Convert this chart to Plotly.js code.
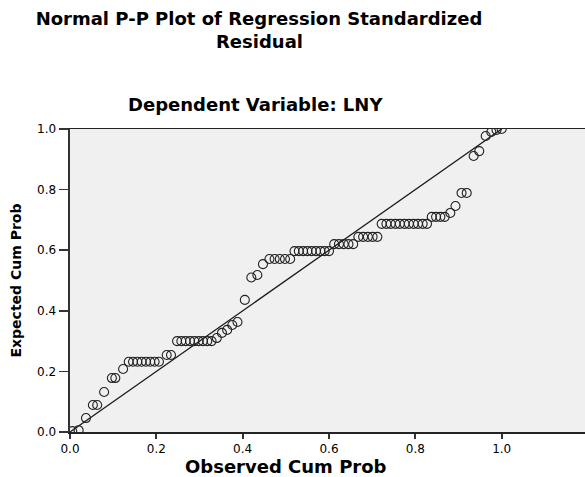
<!DOCTYPE html>
<html>
<head>
<meta charset="utf-8">
<script src="https://cdn.plot.ly/plotly-3.0.1.min.js"></script>
<style>html,body{margin:0;padding:0;background:#fff;}#chart{width:585px;height:477px;}</style>
</head>
<body>
<div id="chart"></div>
<script>
// Observed cumulative probability (x) and expected cumulative probability (y)
var observedCumProb = [
  0.005, 0.020, 0.037, 0.053, 0.063, 0.079, 0.097, 0.105, 0.123,
  0.136, 0.146, 0.156, 0.166, 0.176, 0.186, 0.196, 0.206,
  0.224, 0.234,
  0.248, 0.258, 0.268, 0.278, 0.288, 0.298, 0.308, 0.318, 0.328,
  0.340, 0.352, 0.364, 0.376, 0.388,
  0.405, 0.420, 0.434, 0.447,
  0.462, 0.474, 0.486, 0.498, 0.510,
  0.520, 0.530, 0.540, 0.550, 0.560, 0.570, 0.580, 0.590, 0.600,
  0.612, 0.623, 0.634, 0.645, 0.656,
  0.668, 0.679, 0.690, 0.701, 0.712,
  0.722, 0.733, 0.743, 0.754, 0.764, 0.775, 0.785, 0.796, 0.806, 0.817, 0.827,
  0.838, 0.848, 0.858, 0.868,
  0.881, 0.893, 0.907, 0.919, 0.935, 0.948,
  0.963, 0.976, 0.988, 1.000
];
var expectedCumProb = [
  0.003, 0.006, 0.046, 0.089, 0.089, 0.132, 0.178, 0.178, 0.208,
  0.232, 0.232, 0.232, 0.232, 0.232, 0.232, 0.232, 0.232,
  0.254, 0.254,
  0.300, 0.300, 0.300, 0.300, 0.300, 0.300, 0.300, 0.300, 0.300,
  0.310, 0.327, 0.337, 0.353, 0.363,
  0.436, 0.510, 0.518, 0.554,
  0.571, 0.571, 0.571, 0.571, 0.571,
  0.597, 0.597, 0.597, 0.597, 0.597, 0.597, 0.597, 0.597, 0.597,
  0.620, 0.620, 0.620, 0.620, 0.620,
  0.644, 0.644, 0.644, 0.644, 0.644,
  0.687, 0.687, 0.687, 0.687, 0.687, 0.687, 0.687, 0.687, 0.687, 0.687, 0.687,
  0.710, 0.710, 0.710, 0.710,
  0.723, 0.746, 0.789, 0.789, 0.911, 0.927,
  0.977, 0.990, 0.997, 1.000
];
// Reference (normal) line
var refLineX = [0, 1];
var refLineY = [0, 1];
var yTickVals = [0, 0.2, 0.4, 0.6, 0.8, 1.0];
var yTickText = ['0.0', '0.2', '0.4', '0.6', '0.8', '1.0'];
var xTickVals = [0, 0.2, 0.4, 0.6, 0.8, 1.0];
var xTickText = ['0.0', '0.2', '0.4', '0.6', '0.8', '1.0'];
var titleLine1 = 'Normal P-P Plot of Regression Standardized';
var titleLine2 = 'Residual';
var subTitle = 'Dependent Variable: LNY';
var xTitle = 'Observed Cum Prob';
var yTitle = 'Expected Cum Prob';

var font = 'DejaVu Sans, Verdana, sans-serif';

var traces = [
  {
    x: refLineX, y: refLineY, mode: 'lines', type: 'scatter',
    line: {color: '#1a1a1a', width: 1.3}, hoverinfo: 'skip', showlegend: false
  },
  {
    x: observedCumProb, y: expectedCumProb, mode: 'markers', type: 'scatter',
    marker: {symbol: 'circle-open', size: 9, color: '#222', line: {width: 1.1, color: '#222'}},
    showlegend: false
  }
];

var plotH = 477 - 129 - 45, plotW = 515;
function px(xp) { return (xp - 70) / plotW; }
function py(yp) { return (477 - 45 - yp) / plotH; }

var layout = {
  width: 585, height: 477,
  margin: {l: 70, r: 0, t: 129, b: 45},
  paper_bgcolor: '#ffffff',
  plot_bgcolor: '#f0f0f0',
  font: {family: font, color: '#000', size: 12},
  title: {
    text: '<b>' + titleLine1 + '</b>',
    font: {family: font, size: 18, color: '#000'},
    x: 259/585, xanchor: 'center', xref: 'container',
    y: 1 - 19/477, yanchor: 'middle', yref: 'container'
  },
  xaxis: {
    range: [0, 1.193], tickvals: xTickVals, ticktext: xTickText,
    ticks: 'outside', ticklen: 5, tickwidth: 2, tickcolor: '#333',
    showline: true, linecolor: '#222', linewidth: 1.5, mirror: true,
    showgrid: false, zeroline: false, fixedrange: true,
    tickfont: {family: font, size: 12, color: '#000'}
  },
  yaxis: {
    range: [0, 1.0], tickvals: yTickVals, ticktext: yTickText,
    ticks: 'outside', ticklen: 9, tickwidth: 1.5, tickcolor: '#333',
    showline: true, linecolor: '#333', linewidth: 2.5,
    showgrid: false, zeroline: false, fixedrange: true,
    tickfont: {family: font, size: 12, color: '#000'},
    title: {text: '<b>' + yTitle + '</b>', font: {family: font, size: 14, color: '#000'}, standoff: 12}
  },
  annotations: [
    {
      text: '<b>' + titleLine2 + '</b>', showarrow: false,
      xref: 'paper', yref: 'paper', x: px(259), y: py(41),
      xanchor: 'center', yanchor: 'middle',
      font: {family: font, size: 18, color: '#000'}
    },
    {
      text: '<b>' + subTitle + '</b>', showarrow: false,
      xref: 'paper', yref: 'paper', x: px(255), y: py(104),
      xanchor: 'center', yanchor: 'middle',
      font: {family: font, size: 18, color: '#000'}
    },
    {
      text: '<b>' + xTitle + '</b>', showarrow: false,
      xref: 'paper', yref: 'paper', x: px(286), y: py(466),
      xanchor: 'center', yanchor: 'middle',
      font: {family: font, size: 18, color: '#000'}
    }
  ]
};

Plotly.newPlot('chart', traces, layout, {displayModeBar: false, staticPlot: true});
</script>
</body>
</html>
